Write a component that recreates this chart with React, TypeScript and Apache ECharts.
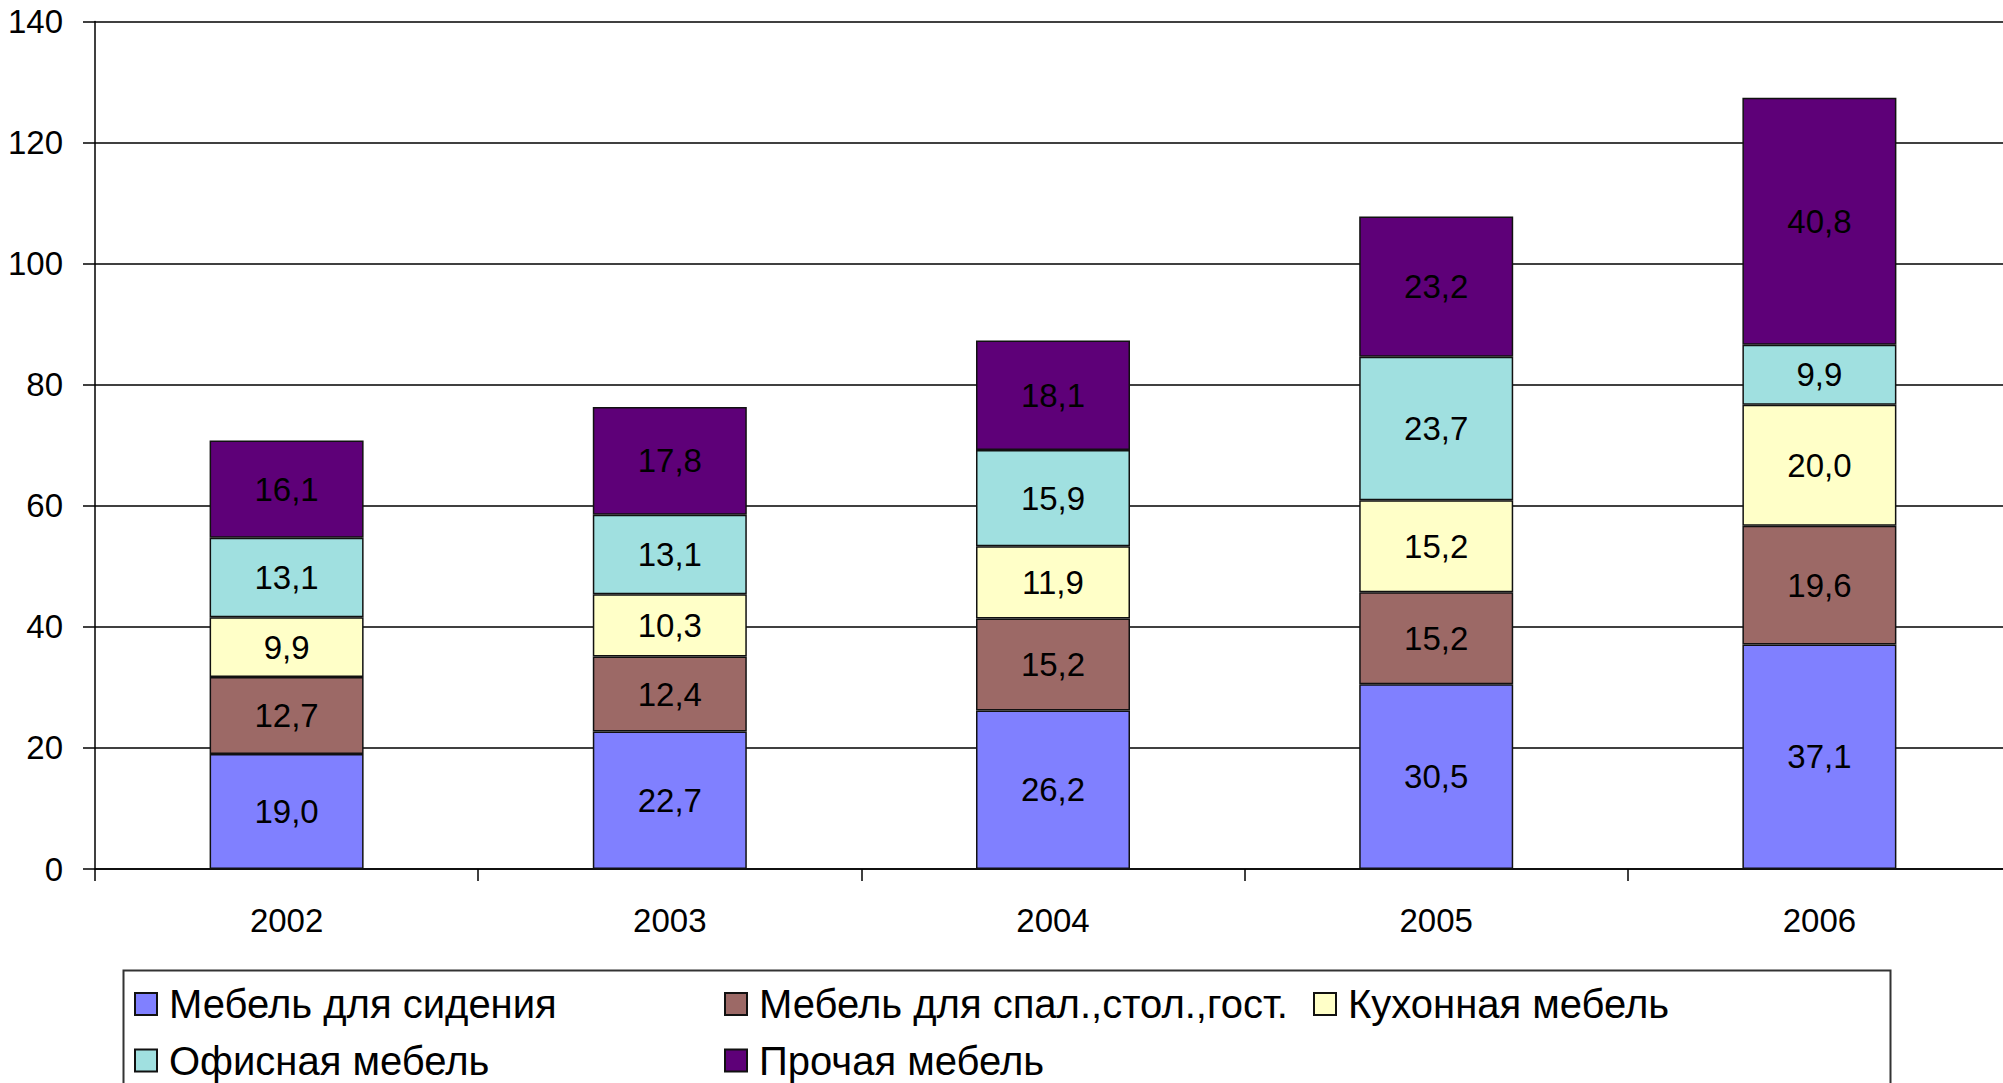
import React, { useEffect, useRef } from "react";
import * as echarts from "echarts";

const categories = ["2002", "2003", "2004", "2005", "2006"];
const seating = [19.0, 22.7, 26.2, 30.5, 37.1];
const bedroom = [12.7, 12.4, 15.2, 15.2, 19.6];
const kitchen = [9.9, 10.3, 11.9, 15.2, 20.0];
const office = [13.1, 13.1, 15.9, 23.7, 9.9];
const other = [16.1, 17.8, 18.1, 23.2, 40.8];

const seriesNames = [
  "Мебель для сидения",
  "Мебель для спал.,стол.,гост.",
  "Кухонная мебель",
  "Офисная мебель",
  "Прочая мебель",
];
const seriesData = [seating, bedroom, kitchen, office, other];
const seriesColors = ["#8080FF", "#9C6966", "#FFFFC8", "#A0E0E0", "#5E0078"];

const yMin = 0;
const yMax = 140;
const yInterval = 20;

const FONT = "'Liberation Sans', Arial, sans-serif";

export default function App() {
  const ref = useRef<HTMLDivElement>(null);
  useEffect(() => {
    document.body.style.margin = "0";
    document.body.style.overflow = "hidden";
    document.documentElement.style.overflow = "hidden";
    const chart = echarts.init(ref.current!, null, { renderer: "svg" });
    const legendText = {
      fontSize: 40,
      fontFamily: FONT,
      color: "#000",
      lineHeight: 40,
      padding: [0, 0, 0, 7],
    };
    const legendCommon = {
      orient: "vertical" as const,
      top: 984,
      itemWidth: 22,
      itemHeight: 22,
      itemGap: 16.5,
      icon: "rect",
      padding: 0,
      selectedMode: false,
      textStyle: legendText,
    };
    chart.setOption({
      animation: false,
      backgroundColor: "#fff",
      textStyle: { fontFamily: FONT },
      grid: { left: 95, width: 1916, top: 21.5, bottom: 214, containLabel: false },
      legend: [
        { ...legendCommon, left: 134, data: [seriesNames[0], seriesNames[3]] },
        { ...legendCommon, left: 724, data: [seriesNames[1], seriesNames[4]] },
        { ...legendCommon, left: 1313, data: [seriesNames[2]] },
      ],
      graphic: [
        {
          type: "rect",
          left: 121,
          top: 968,
          shape: { width: 1767, height: 200 },
          style: { fill: "none", stroke: "#333", lineWidth: 2 },
          z: -1,
        },
      ],
      xAxis: {
        type: "category",
        data: categories,
        axisLine: { show: true, lineStyle: { color: "#000", width: 1.5 } },
        axisTick: { show: true, length: 12, alignWithLabel: false, lineStyle: { color: "#000", width: 1.5 } },
        axisLabel: { fontSize: 33, color: "#000", margin: 35, fontFamily: FONT },
        splitLine: { show: false },
      },
      yAxis: {
        type: "value",
        min: yMin,
        max: yMax,
        interval: yInterval,
        axisLine: { show: true, lineStyle: { color: "#000", width: 1.5 } },
        axisTick: { show: true, length: 12, lineStyle: { color: "#000", width: 1.5 } },
        axisLabel: { fontSize: 33, color: "#000", margin: 32, fontFamily: FONT },
        splitLine: { show: true, lineStyle: { color: "#000", width: 1.5 } },
      },
      series: seriesNames.map((name, i) => ({
        name,
        type: "bar",
        stack: "total",
        barWidth: 154,
        data: seriesData[i],
        itemStyle: { color: seriesColors[i], borderColor: "#111", borderWidth: 1.5 },
        label: {
          show: true,
          position: "inside",
          fontSize: 33,
          color: "#000",
          fontFamily: FONT,
          formatter: (p: any) => Number(p.value).toFixed(1).replace(".", ","),
        },
      })),
    });
    return () => chart.dispose();
  }, []);
  return <div ref={ref} style={{ width: 2020, height: 1083 }} />;
}
